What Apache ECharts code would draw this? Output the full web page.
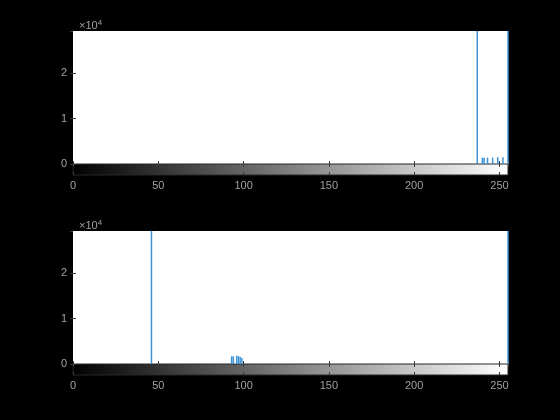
<!DOCTYPE html>
<html><head><meta charset="utf-8">
<script src="https://cdn.jsdelivr.net/npm/echarts@6/dist/echarts.min.js"></script>
<style>html,body{margin:0;background:#000}#c{width:560px;height:420px}</style>
</head><body><div id="c"></div>
<script>
// Histogram data (gray level -> pixel count)
const xTickLabels = [0, 50, 100, 150, 200, 250];
const yTickLabels = [0, 1, 2];
const topBins   = [237, 240, 241, 243, 246, 249, 252, 255];
const topCounts = [60000, 1400, 1400, 1400, 1400, 1500, 1500, 60000];
const botBins   = [46, 93, 94, 96, 97, 98, 99, 255];
const botCounts = [60000, 1700, 1700, 1800, 1700, 1600, 1300, 60000];

const chart = echarts.init(document.getElementById('c'));
const labelColor = '#a0a0a0';
const tickColor = '#3a3a3a';
const font = 'Liberation Sans, Arial, sans-serif';
const YMAX = 29300;

function pairs(b, c) { return b.map((v, i) => [v, c[i]]); }

const plotTops = [31, 231];
const grids = [], xAxes = [], yAxes = [], series = [], titles = [];
plotTops.forEach((t, k) => {
  grids.push({ left: 73, top: t, width: 435, height: 133, show: true, backgroundColor: '#ffffff', borderWidth: 0 });
  grids.push({ left: 73, top: t + 133, width: 435, height: 11, show: true, borderColor: '#262626', borderWidth: 1,
    backgroundColor: new echarts.graphic.LinearGradient(0, 0, 1, 0, [{offset: 0, color: '#000000'}, {offset: 1, color: '#ffffff'}]) });
  const gH = k * 2, gC = k * 2 + 1;
  const baseX = { type: 'value', min: 0, max: 255, interval: 50, splitLine: {show: false}, axisLine: {show: false} };
  const xa0 = xAxes.length;
  xAxes.push(Object.assign({}, baseX, { gridIndex: gH, position: 'bottom', axisLabel: {show: false}, axisTick: {inside: true, length: 3, lineStyle: {color: tickColor}} }));
  xAxes.push(Object.assign({}, baseX, { gridIndex: gH, position: 'top', axisLabel: {show: false}, axisTick: {inside: true, length: 3, lineStyle: {color: tickColor}} }));
  xAxes.push(Object.assign({}, baseX, { gridIndex: gC, position: 'bottom',
    axisLabel: {show: true, color: labelColor, fontSize: 11, fontFamily: font, margin: 5,
      customValues: xTickLabels },
    axisTick: {inside: true, length: 3, lineStyle: {color: tickColor}, customValues: xTickLabels} }));
  const ya0 = yAxes.length;
  const baseY = { type: 'value', min: 0, max: YMAX, interval: 10000, splitLine: {show: false}, axisLine: {show: false} };
  yAxes.push(Object.assign({}, baseY, { gridIndex: gH, position: 'left',
    axisLabel: {color: labelColor, fontSize: 11, fontFamily: font, margin: 6, showMaxLabel: false,
      formatter: v => String(v / 10000)},
    axisTick: {inside: true, length: 3, lineStyle: {color: tickColor}} }));
  yAxes.push(Object.assign({}, baseY, { gridIndex: gH, position: 'right', axisLabel: {show: false},
    axisTick: {inside: true, length: 3, lineStyle: {color: tickColor}} }));
  yAxes.push({ type: 'value', gridIndex: gC, min: 0, max: 1, show: false });
  series.push({
    type: 'bar', xAxisIndex: xa0, yAxisIndex: ya0, barWidth: 1.5, clip: true,
    itemStyle: {color: '#3d92d6'}, silent: true, animation: false,
    data: k === 0 ? pairs(topBins, topCounts) : pairs(botBins, botCounts)
  });
  titles.push({ left: 74, top: t - 17, text: '{a|×10}{b|4}',
    textStyle: { fontWeight: 'normal', rich: { a: {color: labelColor, fontSize: 11, fontWeight: 'normal', fontFamily: font},
                         b: {color: labelColor, fontSize: 8, fontWeight: 'normal', fontFamily: font, verticalAlign: 'top', padding: [0,0,6,0]} } } });
});

chart.setOption({
  backgroundColor: '#000000',
  animation: false,
  title: titles,
  grid: grids,
  xAxis: xAxes,
  yAxis: yAxes,
  series: series
});
</script>
</body></html>
